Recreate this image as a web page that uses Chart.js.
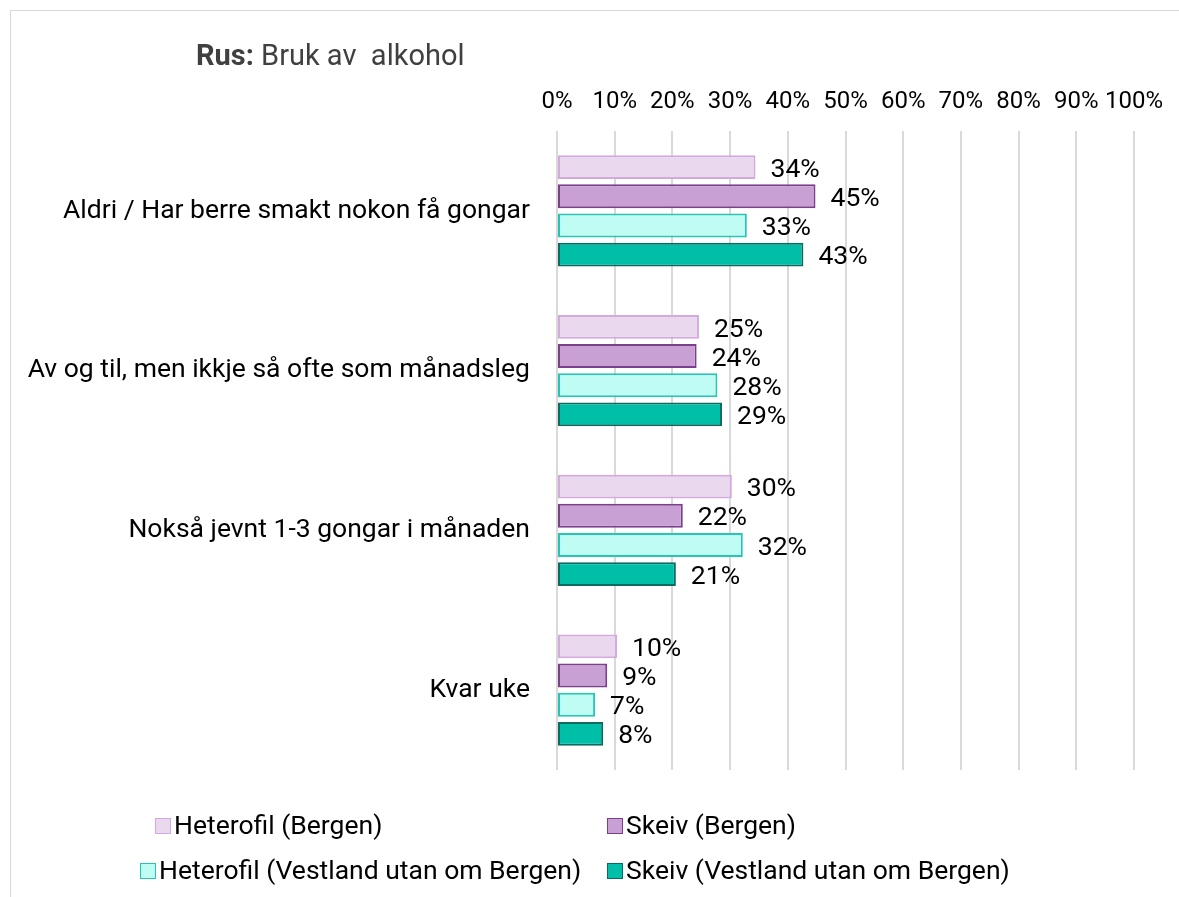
<!DOCTYPE html>
<html>
<head>
<meta charset="utf-8">
<script src="https://cdn.jsdelivr.net/npm/chart.js@4"></script>
<style>
  body { margin: 0; background: #fff; font-family: Roboto, sans-serif; }
  #frame { position: absolute; left: 10px; top: 10px; width: 1200px; height: 900px; border: 1px solid #d9d9d9; box-sizing: border-box; }
  #wrap { position: absolute; left: 0; top: 0; width: 1179px; height: 897px; }
  #title { position: absolute; left: 196px; top: 37px; font-size: 29px; line-height: 36px; color: #404040; white-space: pre; }
  .leg { position: absolute; font-size: 26.5px; color: #000; white-space: nowrap; line-height: 30px; }
  .leg span.box { display: inline-block; width: 14px; height: 14px; border: 1.5px solid; vertical-align: 0px; margin-right: 3px; }
</style>
</head>
<body>
<div id="frame"></div>
<div id="wrap"><canvas id="myChart"></canvas></div>
<div id="title"><b>Rus:</b> Bruk av  alkohol</div>
<div id="legend"></div>
<script>
var categories = [
    "Aldri / Har berre smakt nokon få gongar",
    "Av og til, men ikkje så ofte som månadsleg",
    "Nokså jevnt 1-3 gongar i månaden",
    "Kvar uke"
];
var series_names = [
    "Heterofil (Bergen)",
    "Skeiv (Bergen)",
    "Heterofil (Vestland utan om Bergen)",
    "Skeiv (Vestland utan om Bergen)"
];
var hetero_bergen = [34.4, 24.6, 30.3, 10.4];
var skeiv_bergen = [44.8, 24.2, 21.8, 8.7];
var hetero_vestland = [32.9, 27.8, 32.2, 6.6];
var skeiv_vestland = [42.7, 28.6, 20.6, 8.0];
var tick_values = [0, 10, 20, 30, 40, 50, 60, 70, 80, 90, 100];

var fills = ['#e9d8ee', '#c9a0d4', '#bffcf4', '#00bfa8'];
var borders = ['#d3a9de', '#7b3f8c', '#25c6b4', '#0b6b5f'];
var all_values = [hetero_bergen, skeiv_bergen, hetero_vestland, skeiv_vestland];

// legend spots (x, y) like the excel legend
var legend_spots = [[155, 810], [607, 810], [140, 855], [607, 855]];
var legendDiv = document.getElementById('legend');
series_names.forEach(function(name, i) {
    var d = document.createElement('div');
    d.className = 'leg';
    d.style.left = legend_spots[i][0] + 'px';
    d.style.top = legend_spots[i][1] + 'px';
    d.innerHTML = '<span class="box" style="background:' + fills[i] + ';border-color:' + borders[i] + '"></span>' + name;
    legendDiv.appendChild(d);
});

// draws the % number at the end of each bar
var barLabels = {
    id: 'barLabels',
    afterDatasetsDraw: function(chart) {
        var ctx = chart.ctx;
        ctx.save();
        ctx.font = '26.5px Roboto';
        ctx.fillStyle = '#000';
        ctx.textBaseline = 'middle';
        ctx.textAlign = 'left';
        chart.data.datasets.forEach(function(ds, i) {
            var meta = chart.getDatasetMeta(i);
            meta.data.forEach(function(bar, j) {
                ctx.fillText(Math.round(ds.data[j]) + '%', bar.x + 15, bar.y + 3);
            });
        });
        ctx.restore();
    }
};

var ctx = document.getElementById('myChart').getContext('2d');
var chart = new Chart(ctx, {
    type: 'bar',
    data: {
        labels: categories,
        datasets: series_names.map(function(name, i) {
            return {
                label: name,
                data: all_values[i],
                backgroundColor: fills[i],
                borderColor: borders[i],
                borderWidth: 2,
                borderSkipped: false,
                categoryPercentage: 0.73,
                barPercentage: 0.82
            };
        })
    },
    options: {
        indexAxis: 'y',
        responsive: true,
        maintainAspectRatio: false,
        animation: false,
        layout: { padding: { top: 0, right: 45, bottom: 127, left: 0 } },
        plugins: {
            legend: { display: false },
            tooltip: { enabled: false }
        },
        scales: {
            x: {
                position: 'top',
                min: 0,
                max: 100,
                afterBuildTicks: function(axis) {
                    axis.ticks = tick_values.map(function(v) { return { value: v }; });
                },
                afterFit: function(axis) { axis.height = 131; },
                ticks: {
                    callback: function(v) { return v + '%'; },
                    font: { family: 'Roboto', size: 24 },
                    color: '#000',
                    padding: 15,
                    maxRotation: 0,
                    autoSkip: false
                },
                grid: { color: '#d9d9d9', lineWidth: 2, drawTicks: false },
                border: { display: false }
            },
            y: {
                afterFit: function(axis) { axis.width = 557; },
                ticks: {
                    font: { family: 'Roboto', size: 26.5 },
                    color: '#000',
                    padding: 19
                },
                grid: { display: false },
                border: { display: false }
            }
        }
    },
    plugins: [barLabels]
});
</script>
</body>
</html>
